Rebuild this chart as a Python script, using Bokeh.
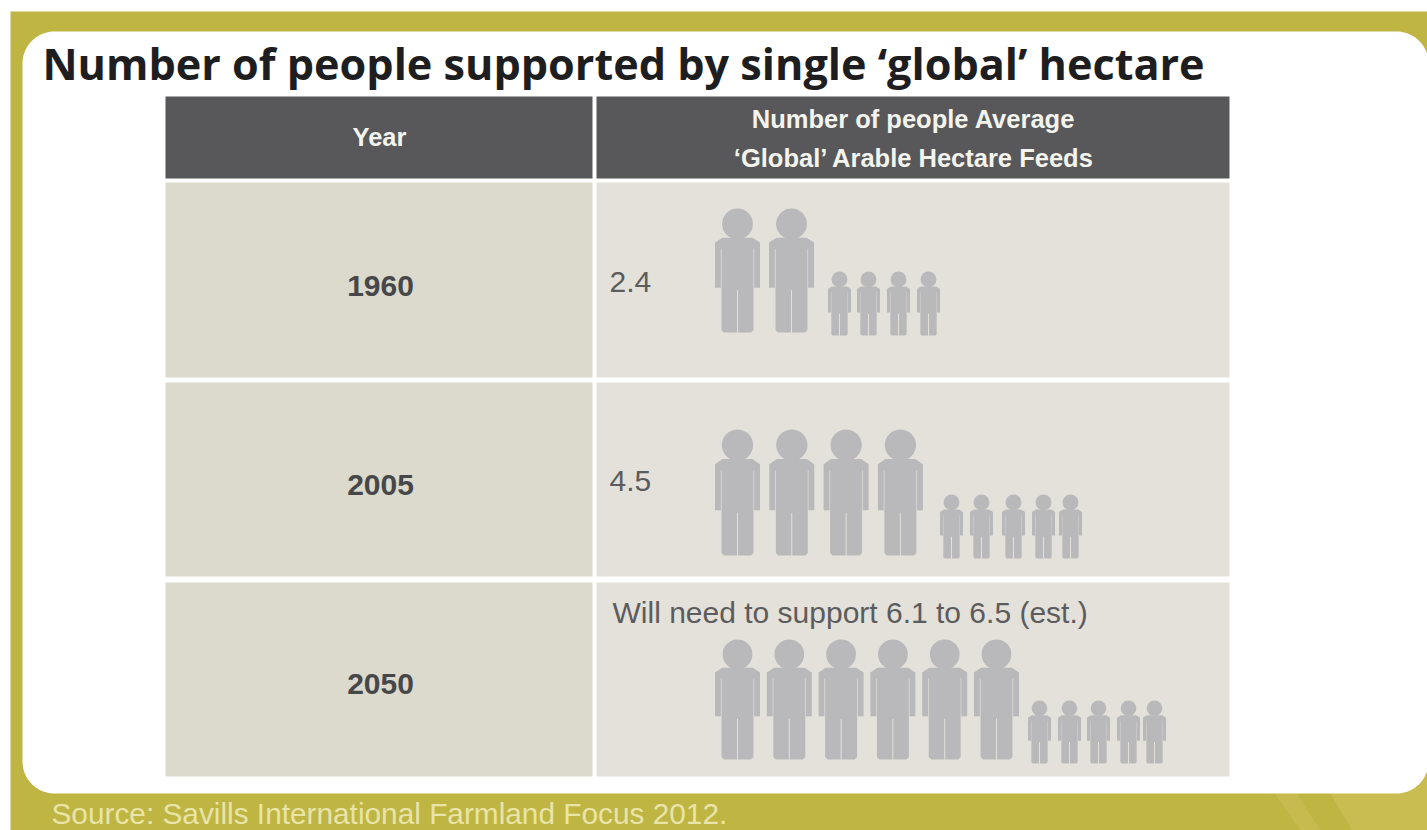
import numpy as np
from bokeh.core.properties import value
from bokeh.embed import file_html
from bokeh.models import Range1d
from bokeh.plotting import figure
from bokeh.resources import INLINE

# Table content
title = "Number of people supported by single ‘global’ hectare"
source_note = "Source: Savills International Farmland Focus 2012."
header_year = "Year"
header_feeds = ["Number of people Average", "‘Global’ Arable Hectare Feeds"]
years = ["1960", "2005", "2050"]
feeds_labels = ["2.4", "4.5", "Will need to support 6.1 to 6.5 (est.)"]
adult_counts = [2, 4, 6]
child_counts = [4, 5, 5]

# Page layout in pixels
W, H = 1427, 830
OLIVE, PANEL = "#bfb543", "#ffffff"
HEADER, YEAR_CELL, FEED_CELL = "#58585a", "#dbdacd", "#e3e1d9"
FIGURE_GREY = "#b9b9bc"
TEXT_DARK, TEXT_MID = "#47474a", "#5c5c5e"

row_tops = [182, 382, 582]
row_bottoms = [377, 576, 776]
year_y = [285, 484, 683]
label_x = [609, 609, 612]
label_y = [281, 480, 612]

# Horizontal placement and vertical extent of the pictograms in each row
adult_start = [737, 737, 737]
adult_step = [54, 54.3, 51.8]
adult_top = [208, 429, 639]
adult_bottom = [332, 555, 759]
child_x = [[839, 868, 898, 928],
           [951, 981, 1013, 1043, 1070],
           [1039, 1069, 1098, 1128, 1154]]
child_top = [271, 494, 700]
child_bottom = [335, 558, 763]

p = figure(width=W, height=H, output_backend="svg", toolbar_location=None,
           x_range=Range1d(0, W), y_range=Range1d(H, 0),
           min_border=0, outline_line_color=None, background_fill_color="#ffffff",
           border_fill_color="#ffffff")
p.axis.visible = False
p.grid.visible = False


def box(x0, y0, x1, y1, color):
    p.quad(left=x0, right=x1, top=y0, bottom=y1, fill_color=color, line_color=None)


def rounded_panel(x0, y0, x1, y1, r):
    t = np.linspace(0, np.pi / 2, 24)
    xs = np.r_[x0 + r - r * np.cos(t), x1 - r + r * np.sin(t),
               x1 - r + r * np.cos(t), x0 + r - r * np.sin(t)]
    ys = np.r_[y0 + r - r * np.sin(t), y0 + r - r * np.cos(t),
               y1 - r + r * np.sin(t), y1 - r + r * np.cos(t)]
    p.patch(xs, ys, fill_color=PANEL, line_color=None)


def person(cx, top, bottom, half_width):
    """One standing figure: round head, shoulders with arms, two legs."""
    h = bottom - top
    head_r = h * 0.124
    shoulder = top + h * 0.235
    arm_end = top + h * 0.64
    hip = half_width * 0.71
    arm_in = half_width * 0.74
    armpit = shoulder + h * 0.09
    crotch = top + h * 0.66
    c = h * 0.02
    p.circle([cx], [top + head_r], radius=head_r, fill_color=FIGURE_GREY, line_color=None)
    # Right side of the outline, from the neck down to the gap between the legs
    side_x = [half_width - 3 * c, half_width, half_width, arm_in, arm_in, hip, hip,
              hip - c, 0.5, 0.5]
    side_y = [shoulder, shoulder + 2 * c, arm_end, arm_end, armpit, armpit, bottom - c,
              bottom, bottom, crotch]
    xs = [cx + v for v in side_x] + [cx - v for v in reversed(side_x)]
    ys = side_y + list(reversed(side_y))
    p.patch(xs, ys, fill_color=FIGURE_GREY, line_color=None)


def label(x, y, text, size, color, align="center", style="normal", font="Liberation Sans"):
    p.text([x], [y], text=[text], text_font=value(font), text_font_size=f"{size}px",
           text_font_style=style, text_color=color, text_align=align, text_baseline="middle")


# Olive frame, its faint lighter streaks, and the white rounded panel
box(10, 11, W, H, OLIVE)
p.patch([1274, 1296, 1320, 1300], [793, 793, 830, 830], fill_color="#c7ba4e", line_color=None)
p.patch([1330, W, W, 1352], [793, 775, H, H], fill_color="#c9bd52", line_color=None)
rounded_panel(22, 31, W + 1, 793, 32)

# Table header
box(165, 96, 592, 178, HEADER)
box(596, 96, 1229, 178, HEADER)
label(379, 136, header_year, 25.5, "#f4f4ef", style="bold")
label(913, 118, header_feeds[0], 25.5, "#f4f4ef", style="bold")
label(914, 157, header_feeds[1], 25.5, "#f4f4ef", style="bold")

# Table rows
for i, year in enumerate(years):
    box(165, row_tops[i], 592, row_bottoms[i], YEAR_CELL)
    box(596, row_tops[i], 1229, row_bottoms[i], FEED_CELL)
    label(380, year_y[i], year, 30, TEXT_DARK, style="bold")
    label(label_x[i], label_y[i], feeds_labels[i], 30, TEXT_MID, align="left")
    for n in range(adult_counts[i]):
        person(adult_start[i] + n * adult_step[i], adult_top[i], adult_bottom[i], 22.5)
    for n in range(child_counts[i]):
        person(child_x[i][n], child_top[i], child_bottom[i], 11.5)

label(42, 63, title, 43.2, "#1e1e20", align="left", style="bold", font="Open Sans")
label(51, 813, source_note, 29.8, "#e9e4a8", align="left")

open("out.html", "w").write(file_html(p, INLINE))
